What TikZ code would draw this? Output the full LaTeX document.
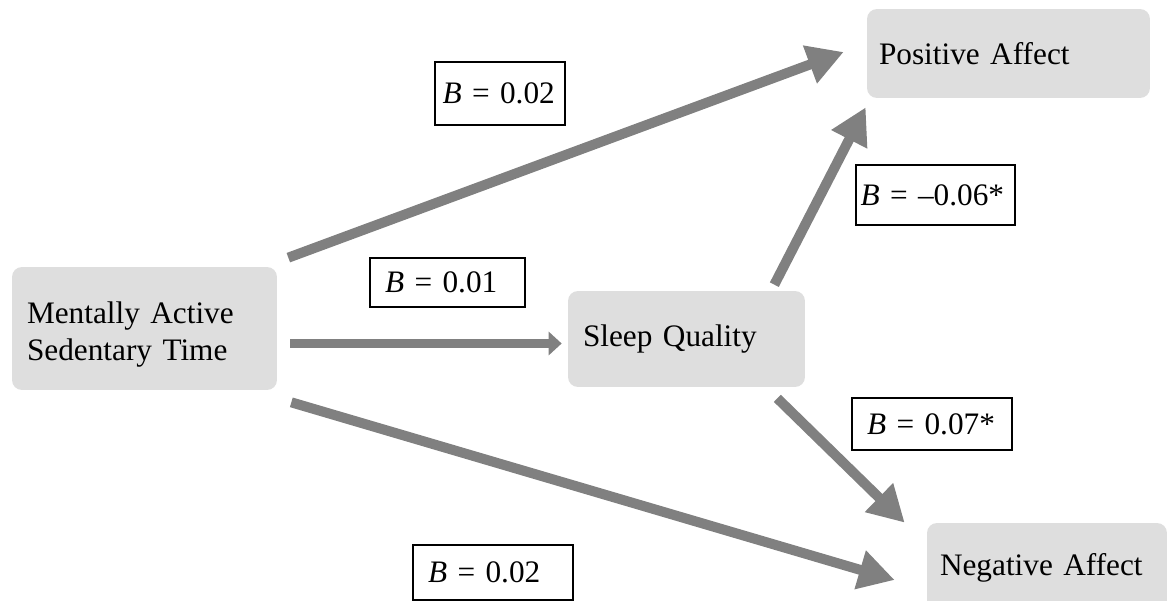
\documentclass[tikz,border=0pt]{standalone}
\usepackage{fontspec}
\setmainfont{Liberation Serif}
\usepackage{tikz}
\usetikzlibrary{arrows.meta,calc}
\tikzset{
  var/.style={rectangle, rounded corners=0.2cm, fill=black!13, align=left,
              inner ysep=0pt, font=\fontsize{17.8}{21}\selectfont},
  coef/.style={rectangle, draw=black, line width=0.85pt, fill=white, align=left,
               inner ysep=0pt, inner xsep=0.3cm, font=\fontsize{17.8}{21}\selectfont},
  arr/.style={-{Triangle[length=0.72cm, width=0.76cm]}, draw=gray, line width=0.2cm},
  arrs/.style={-{Triangle[length=0.26cm, width=0.46cm]}, draw=gray, line width=0.2cm}
}
\begin{document}
\begin{tikzpicture}[x=0.02cm, y=-0.02cm]
\useasboundingbox (0,0) rectangle (1167,601);
% variables
\node[var, minimum height=2.46cm, text width=4.7cm, inner xsep=0.3cm] (mast) at (144.5,328.5) {\rule{0pt}{19pt}Mentally Active\\Sedentary Time};
\node[var, minimum height=1.92cm, text width=4.14cm, inner xsep=0.3cm] (sleep) at (686.5,339) {Sleep Quality};
\node[var, minimum height=1.78cm, text width=5.18cm, inner xsep=0.24cm] (pa) at (1008.5,53.5) {Positive Affect};
\node[var, minimum height=1.78cm, text width=4.28cm, inner xsep=0.26cm] (na) at (1047,567.5) {Negative Affect};
% paths
\draw[arr] ($(mast.north east)+(11,-9)$) -- ($(pa.west)+(-23,-1.5)$);
\draw[arrs] ($(mast.east)+(13,15)$) -- ($(sleep.west)+(-6,4.5)$);
\draw[arr] ($(sleep.north east)+(-31,-6)$) -- ($(pa.south west)+(-1,9)$);
\draw[arr] ($(sleep.south east)+(-28,11)$) -- ($(na.north west)+(-22,0)$);
\draw[arr] ($(mast.south east)+(14,12)$) -- ($(na.west)+(-32,12.5)$);
% coefficients
\node[coef, minimum height=1.26cm, text width=2.3cm, inner xsep=0.15cm] (c1) at (500,93.5) {\textit{B} = 0.02};
\node[coef, minimum height=0.98cm, text width=2.5cm] (c2) at (447.5,282.5) {\textit{B} = 0.01};
\node[coef, minimum height=1.2cm, text width=3.0cm, inner xsep=0.09cm] (c3) at (935.5,195) {\mbox{\textit{B} = –0.06*}};
\node[coef, minimum height=1.04cm, text width=2.6cm] (c4) at (932,424) {\textit{B} = 0.07*};
\node[coef, minimum height=1.1cm, text width=2.6cm] (c5) at (493,572.5) {\textit{B} = 0.02};
\end{tikzpicture}
\end{document}
